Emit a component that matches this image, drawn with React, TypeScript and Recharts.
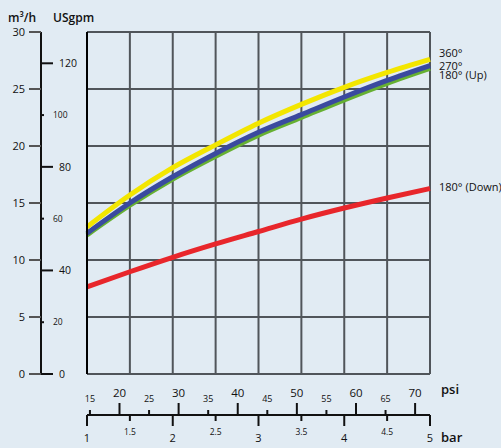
import React from 'react';
import { LineChart, Line, XAxis, YAxis, CartesianGrid, LabelList } from 'recharts';

// ---- data ----
const barTicks = [1, 1.5, 2, 2.5, 3, 3.5, 4, 4.5, 5];
const psiTicks = [15, 20, 25, 30, 35, 40, 45, 50, 55, 60, 65, 70];
const m3Ticks = [0, 5, 10, 15, 20, 25, 30];
const gpmTicks = [0, 20, 40, 60, 80, 100, 120];

const flow360 = [12.9, 15.7, 18.1, 20.1, 22.0, 23.65, 25.15, 26.45, 27.6];
const flow270 = [12.35, 15.0, 17.3, 19.35, 21.2, 22.75, 24.3, 25.75, 27.05];
const flow180Up = [12.2, 14.8, 17.1, 19.1, 20.95, 22.5, 24.05, 25.5, 26.8];
const flow180Down = [7.64, 8.97, 10.24, 11.41, 12.5, 13.59, 14.56, 15.44, 16.27];

const seriesNames = ['360°', '270°', '180° (Up)', '180° (Down)'];

const BAR_TO_PSI = 14.5038;
const M3H_TO_GPM = 4.40287;

const data = barTicks.map((bar, i) => ({
  bar,
  psi: bar * BAR_TO_PSI,
  s360: flow360[i],
  s270: flow270[i],
  s180up: flow180Up[i],
  s180down: flow180Down[i],
  gpm: flow360[i] * M3H_TO_GPM,
}));

const FONT = '"Open Sans", "DejaVu Sans", sans-serif';
const BG = '#e1ebf3';
const INK = '#111';
const LAST = barTicks.length - 1;

const endLabel = (text: string, dy: number) => (props: any) => {
  const { x, y, index } = props;
  if (index !== LAST) return <g />;
  return (
    <text x={Number(x) + 9} y={Number(y) + dy} fontSize={11} fontFamily={FONT} fill={INK}>
      {text}
    </text>
  );
};

const GpmTick = (props: any) => {
  const { x, y, payload } = props;
  const v = payload.value;
  const major = v % 40 === 0;
  const x0 = x - 46;
  return (
    <g>
      <line x1={x0} x2={x0 + (major ? 12 : 3)} y1={y} y2={y} stroke={INK} strokeWidth={2} />
      <text
        x={x0 + (major ? 18 : 12)}
        y={y}
        dy="0.355em"
        fontSize={major ? 10.5 : 8.5}
        fontFamily={FONT}
        fill={INK}
        textAnchor="start"
      >
        {v}
      </text>
    </g>
  );
};

const PsiTick = (props: any) => {
  const { x, y, payload } = props;
  const v = payload.value;
  const major = v % 10 === 0;
  return (
    <g>
      <line x1={x} x2={x} y1={y + (major ? 29 : 36)} y2={y + 41} stroke={INK} strokeWidth={2} />
      <text
        x={x}
        y={y + (major ? 23 : 28)}
        fontSize={major ? 11.5 : 9}
        fontFamily={FONT}
        fill={INK}
        textAnchor="middle"
      >
        {v}
      </text>
    </g>
  );
};

const BarTick = (props: any) => {
  const { x, y, payload } = props;
  const v = payload.value;
  const major = Number.isInteger(v);
  return (
    <g>
      <line x1={x} x2={x} y1={y} y2={y + (major ? 11 : 6)} stroke={INK} strokeWidth={2} />
      <text
        x={x}
        y={y + (major ? 27 : 20)}
        fontSize={major ? 11 : 8.5}
        fontFamily={FONT}
        fill={INK}
        textAnchor="middle"
      >
        {v}
      </text>
    </g>
  );
};

export default function App() {
  return (
    <div style={{ position: 'absolute', left: 0, top: 0, width: 501, height: 448, background: BG, fontFamily: FONT }}>
      <LineChart width={501} height={448} data={data} margin={{ top: 32, right: 71, bottom: 0, left: 0 }}>
        <CartesianGrid xAxisId="xb" yAxisId="m3" stroke="#50555a" strokeWidth={2} fill="none" />
        <XAxis
          xAxisId="xa"
          dataKey="psi"
          type="number"
          domain={[BAR_TO_PSI * 1, BAR_TO_PSI * 5]}
          ticks={psiTicks}
          interval={0}
          height={41}
          axisLine={false}
          tickLine={false}
          tickSize={0}
          tickMargin={0}
          tick={<PsiTick />}
        />
        <XAxis
          xAxisId="xb"
          dataKey="bar"
          type="number"
          domain={[1, 5]}
          ticks={barTicks}
          interval={0}
          height={33}
          axisLine={{ stroke: INK, strokeWidth: 2 }}
          tickLine={false}
          tickSize={0}
          tickMargin={0}
          tick={<BarTick />}
        />
        <YAxis
          yAxisId="gpm"
          dataKey="gpm"
          type="number"
          domain={[0, 30 * M3H_TO_GPM]}
          ticks={gpmTicks}
          interval={0}
          width={46}
          axisLine={{ stroke: '#000', strokeWidth: 2 }}
          tickLine={false}
          tickSize={0}
          tickMargin={0}
          tick={<GpmTick />}
        />
        <YAxis
          yAxisId="m3"
          type="number"
          domain={[0, 30]}
          ticks={m3Ticks}
          interval={0}
          width={41}
          axisLine={{ stroke: INK, strokeWidth: 2 }}
          tickLine={{ stroke: '#555', strokeWidth: 2 }}
          tickSize={12}
          tickMargin={4}
          tick={{ fontSize: 11, fill: INK, fontFamily: FONT }}
        />
        <Line
          xAxisId="xb"
          yAxisId="m3"
          dataKey="s180up"
          type="monotone"
          stroke="#66b032"
          strokeWidth={5}
          dot={false}
          isAnimationActive={false}
        >
          <LabelList dataKey="s180up" content={endLabel(seriesNames[2], 11)} />
        </Line>
        <Line
          xAxisId="xb"
          yAxisId="m3"
          dataKey="s270"
          type="monotone"
          stroke="#3a4a9f"
          strokeWidth={5}
          dot={false}
          isAnimationActive={false}
        >
          <LabelList dataKey="s270" content={endLabel(seriesNames[1], 4)} />
        </Line>
        <Line
          xAxisId="xb"
          yAxisId="m3"
          dataKey="s360"
          type="monotone"
          stroke="#f3e600"
          strokeWidth={5}
          dot={false}
          isAnimationActive={false}
        >
          <LabelList dataKey="s360" content={endLabel(seriesNames[0], -2)} />
        </Line>
        <Line
          xAxisId="xb"
          yAxisId="m3"
          dataKey="s180down"
          type="monotone"
          stroke="#e8262b"
          strokeWidth={5}
          dot={false}
          isAnimationActive={false}
        >
          <LabelList dataKey="s180down" content={endLabel(seriesNames[3], 2)} />
        </Line>
      </LineChart>
      <svg
        width={501}
        height={448}
        style={{ position: 'absolute', left: 0, top: 0, pointerEvents: 'none' }}
      >
        <text x={8} y={21.5} fontSize={12} fontWeight={600} fontFamily={FONT} fill={INK}>m³/h</text>
        <text x={53} y={21.5} fontSize={12} fontWeight={600} fontFamily={FONT} fill={INK}>USgpm</text>
        <text x={441} y={394} fontSize={13} fontWeight={600} fontFamily={FONT} fill={INK}>psi</text>
        <text x={441} y={442} fontSize={13} fontWeight={600} fontFamily={FONT} fill={INK}>bar</text>
      </svg>
    </div>
  );
}
